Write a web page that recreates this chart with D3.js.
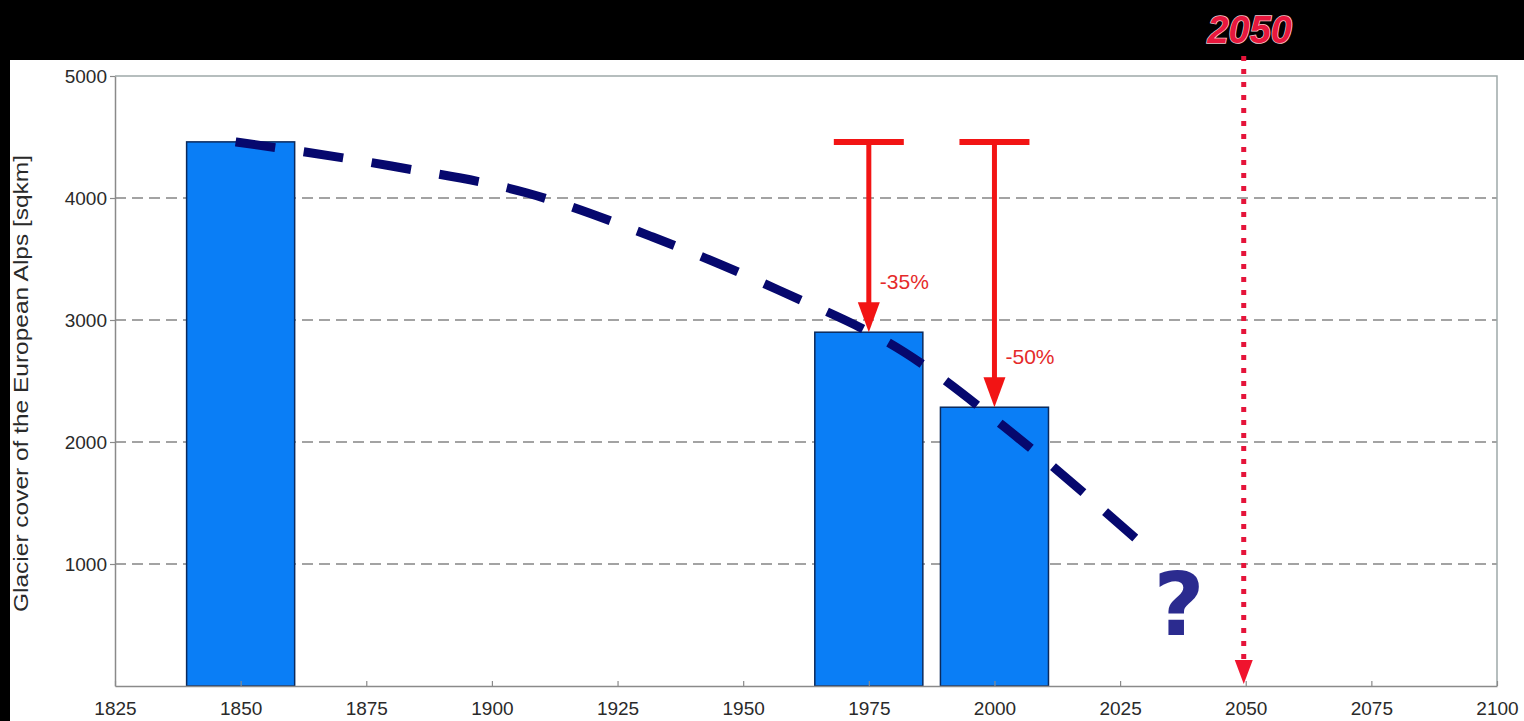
<!DOCTYPE html>
<html>
<head>
<meta charset="utf-8">
<script src="https://cdn.jsdelivr.net/npm/d3@7"></script>
<style>
  body { margin: 0; background: #000; }
  svg { display: block; }
</style>
</head>
<body>
<script>
var w = 1524;
var h = 721;

// glacier cover of the European Alps (sqkm)
var barYears = [1850, 1975, 2000];
var barAreas = [4460, 2900, 2285];
var changeLabels = ["-35%", "-50%"];   // for 1975 and 2000, relative to 1850

// dashed trend
var trendYears = [1849, 1880, 1907, 1932, 1957, 1982, 2004, 2028];
var trendAreas = [4460, 4262, 4041, 3680, 3246, 2738, 2057, 1213];

var xTicks = [1825, 1850, 1875, 1900, 1925, 1950, 1975, 2000, 2025, 2050, 2075, 2100];
var yTicks = [1000, 2000, 3000, 4000, 5000];
var markYear = 2050;
var yTitle = "Glacier cover of the European Alps [sqkm]";

var plot = {left: 115, right: 1497, top: 76, bottom: 686};
var barWidthYears = 21.5;

var x = d3.scaleLinear().domain([1825, 2100]).range([plot.left, plot.right]);
var y = d3.scaleLinear().domain([0, 5000]).range([plot.bottom, plot.top]);

var svg = d3.select("body").append("svg")
    .attr("width", w)
    .attr("height", h);

// black frame with white page
svg.append("rect").attr("width", w).attr("height", h).attr("fill", "#000");
svg.append("rect").attr("x", 10).attr("y", 60).attr("width", w - 10).attr("height", h - 60).attr("fill", "#fff");

// gridlines
svg.append("g").selectAll("line")
    .data(yTicks.filter(function(d){ return d < 5000; }))
    .enter().append("line")
    .attr("x1", plot.left).attr("x2", plot.right)
    .attr("y1", function(d){ return y(d); })
    .attr("y2", function(d){ return y(d); })
    .attr("stroke", "#a3a3a3")
    .attr("stroke-width", 2)
    .attr("stroke-dasharray", "11,6");

// plot border (top and right)
svg.append("path")
    .attr("d", "M" + plot.left + "," + plot.top + "H" + plot.right + "V" + plot.bottom)
    .attr("fill", "none")
    .attr("stroke", "#9fa9a9")
    .attr("stroke-width", 1.5);

// bars
svg.append("g").selectAll("rect")
    .data(barYears)
    .enter().append("rect")
    .attr("x", function(d){ return x(d - barWidthYears / 2); })
    .attr("width", function(d){ return x(d + barWidthYears / 2) - x(d - barWidthYears / 2); })
    .attr("y", function(d, i){ return y(barAreas[i]); })
    .attr("height", function(d, i){ return y(0) - y(barAreas[i]); })
    .attr("fill", "#0a7ef6")
    .attr("stroke", "#0b2a5c")
    .attr("stroke-width", 1.5);

// axes
var xAxis = d3.axisBottom(x).tickValues(xTicks).tickFormat(d3.format("d")).tickSizeInner(-5).tickSizeOuter(0).tickPadding(12);
var gx = svg.append("g").attr("transform", "translate(0," + plot.bottom + ")").call(xAxis);
var yAxis = d3.axisLeft(y).tickValues(yTicks).tickFormat(d3.format("d")).tickSizeInner(5).tickSizeOuter(0).tickPadding(3);
var gy = svg.append("g").attr("transform", "translate(" + plot.left + ",0)").call(yAxis);

[gx, gy].forEach(function(g){
    g.select(".domain").attr("stroke", "#8a8a8a").attr("stroke-width", 1.5);
    g.selectAll(".tick line").attr("stroke", "#8a8a8a").attr("stroke-width", 1.2);
    g.selectAll(".tick text")
        .attr("fill", "#2a2a2a")
        .style("font-family", "'Liberation Sans', Arial, sans-serif")
        .style("font-size", "19px");
});
gx.selectAll(".tick text").attr("dy", "0.9em");

// y title
svg.append("text")
    .attr("transform", "translate(28," + ((155 + 612) / 2) + ") rotate(-90)")
    .attr("text-anchor", "middle")
    .attr("textLength", 457)
    .attr("lengthAdjust", "spacingAndGlyphs")
    .style("font-family", "'Liberation Sans', Arial, sans-serif")
    .style("font-size", "20px")
    .attr("fill", "#2a2a2a")
    .text(yTitle);

// dashed trend, dashes fitted so the line starts and ends on a dash
var line = d3.line()
    .x(function(d){ return x(d[0]); })
    .y(function(d){ return y(d[1]); })
    .curve(d3.curveMonotoneX);
var trend = svg.append("path")
    .datum(d3.zip(trendYears, trendAreas))
    .attr("d", line)
    .attr("fill", "none")
    .attr("stroke", "#06086e")
    .attr("stroke-width", 9);
var dashLen = 40;
var len = trend.node().getTotalLength();
var nDash = Math.round((len - dashLen) / 67);
var gapLen = (len - dashLen) / nDash - dashLen;
trend.attr("stroke-dasharray", dashLen + "," + gapLen);

// red change arrows: from the 1850 level down to each later bar
var arrowCol = "#f21414";
var arrows = svg.append("g");
barYears.slice(1).forEach(function(yr, i){
    var cx = x(yr);
    var top = y(barAreas[0]);
    var tip = y(barAreas[i + 1]);
    arrows.append("line")
        .attr("x1", cx - 35).attr("x2", cx + 35)
        .attr("y1", top).attr("y2", top)
        .attr("stroke", arrowCol).attr("stroke-width", 6);
    arrows.append("line")
        .attr("x1", cx).attr("x2", cx)
        .attr("y1", top).attr("y2", tip - 25)
        .attr("stroke", arrowCol).attr("stroke-width", 5);
    arrows.append("path")
        .attr("d", "M" + (cx - 11) + "," + (tip - 30) + "L" + (cx + 11) + "," + (tip - 30) + "L" + cx + "," + tip + "Z")
        .attr("fill", arrowCol);
    arrows.append("text")
        .attr("x", cx + 11)
        .attr("y", tip - 43)
        .style("font-family", "'Liberation Sans', Arial, sans-serif")
        .style("font-size", "21px")
        .attr("fill", "#e52a2a")
        .text(changeLabels[i]);
});

// 2050 marker
var mx = x(markYear) - 2;
svg.append("line")
    .attr("x1", mx).attr("x2", mx)
    .attr("y1", 56).attr("y2", 662)
    .attr("stroke", "#e5143a")
    .attr("stroke-width", 5)
    .attr("stroke-dasharray", "5,8");
svg.append("path")
    .attr("d", "M" + (mx - 9) + ",660L" + (mx + 9) + ",660L" + mx + ",684Z")
    .attr("fill", "#f0142e");
svg.append("text")
    .attr("x", mx + 6)
    .attr("y", 43)
    .attr("text-anchor", "middle")
    .style("font-family", "'Liberation Sans', Arial, sans-serif")
    .style("font-size", "38px")
    .style("font-weight", "bold")
    .style("font-style", "italic")
    .attr("fill", "#e8173d")
    .attr("stroke", "#f4c9cf")
    .attr("stroke-width", 1.5)
    .attr("paint-order", "stroke")
    .text(String(markYear));

// question mark
svg.append("text")
    .attr("x", 1179)
    .attr("y", 635)
    .attr("text-anchor", "middle")
    .style("font-family", "'DejaVu Sans', sans-serif")
    .style("font-size", "88px")
    .style("font-weight", "bold")
    .attr("fill", "#2b2b8f")
    .text("?");
</script>
</body>
</html>
